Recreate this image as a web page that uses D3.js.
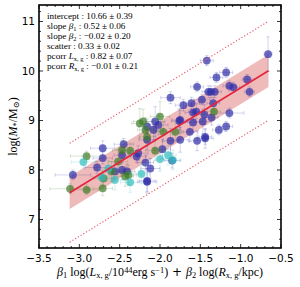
<!DOCTYPE html>
<html>
<head>
<meta charset="utf-8">
<script src="https://cdn.jsdelivr.net/npm/d3@7"></script>
<style>
  body { margin: 0; background: #fff; }
  svg { display: block; }
</style>
</head>
<body>
<div id="chart"></div>
<script>
// data points: [x, y, xerr, yerr]
const bluePoints = [
    [-3.08, 7.90, 0.22, 0.10], [-2.71, 8.44, 0.15, 0.15], [-2.71, 8.24, 0.12, 0.12],
    [-2.78, 8.05, 0.15, 0.12], [-2.56, 7.97, 0.12, 0.15], [-2.45, 8.52, 0.12, 0.12],
    [-2.47, 8.30, 0.10, 0.15], [-2.47, 8.00, 0.10, 0.20], [-2.41, 7.97, 0.10, 0.15],
    [-2.29, 8.27, 0.12, 0.12], [-2.27, 8.34, 0.12, 0.15], [-2.16, 7.78, 0.10, 0.25],
    [-2.18, 8.15, 0.10, 0.15], [-2.16, 8.88, 0.10, 0.15], [-1.42, 10.21, 0.08, 0.10],
    [-1.54, 9.68, 0.08, 0.10], [-1.87, 9.46, 0.12, 0.12], [-1.30, 9.87, 0.08, 0.10],
    [-1.18, 9.97, 0.08, 0.10], [-0.92, 9.83, 0.06, 0.10], [-1.14, 9.70, 0.08, 0.10],
    [-1.09, 9.67, 0.08, 0.10], [-0.89, 9.58, 0.06, 0.10], [-1.40, 9.58, 0.08, 0.12],
    [-1.37, 9.58, 0.08, 0.12], [-1.32, 9.58, 0.08, 0.12], [-1.61, 9.35, 0.10, 0.12],
    [-1.48, 9.42, 0.10, 0.10], [-1.71, 9.31, 0.10, 0.12], [-1.34, 9.35, 0.08, 0.12],
    [-1.76, 8.99, 0.10, 0.25], [-1.59, 9.16, 0.10, 0.15], [-1.59, 8.96, 0.10, 0.20],
    [-1.47, 8.98, 0.10, 0.25], [-1.14, 9.15, 0.18, 0.10], [-1.45, 9.12, 0.10, 0.20],
    [-1.36, 9.06, 0.08, 0.15], [-1.55, 9.18, 0.10, 0.15], [-1.75, 9.01, 0.10, 0.20],
    [-2.06, 8.98, 0.12, 0.30], [-2.02, 8.91, 0.12, 0.20], [-2.08, 8.81, 0.12, 0.20],
    [-1.75, 8.61, 0.10, 0.25], [-1.87, 8.59, 0.10, 0.25], [-1.63, 8.77, 0.10, 0.20],
    [-1.54, 8.59, 0.10, 0.20], [-1.44, 8.64, 0.10, 0.20], [-1.97, 8.42, 0.10, 0.20],
    [-2.16, 8.61, 0.10, 0.20], [-2.12, 8.03, 0.12, 0.20], [-2.16, 7.76, 0.12, 0.20],
    [-1.18, 8.88, 0.08, 0.10], [-1.27, 8.81, 0.08, 0.10], [-1.44, 8.67, 0.08, 0.15],
    [-1.85, 8.19, 0.10, 0.15], [-0.66, 10.34, 0.05, 0.35]
];
const greenPoints = [
    [-3.115, 7.62, 0.25, 0.10], [-2.91, 7.60, 0.15, 0.10], [-2.71, 7.63, 0.12, 0.15],
    [-2.91, 8.28, 0.20, 0.10], [-2.70, 7.83, 0.12, 0.15], [-2.60, 7.97, 0.12, 0.20],
    [-2.47, 8.40, 0.12, 0.20], [-2.37, 8.39, 0.12, 0.15], [-2.52, 8.17, 0.12, 0.25],
    [-2.39, 7.90, 0.10, 0.20], [-2.43, 7.87, 0.10, 0.20], [-2.25, 8.94, 0.10, 0.30],
    [-2.18, 8.81, 0.10, 0.25], [-2.16, 8.67, 0.10, 0.20], [-1.33, 9.18, 0.08, 0.15],
    [-2.00, 9.08, 0.12, 0.30], [-2.21, 8.98, 0.12, 0.25], [-1.96, 8.77, 0.12, 0.20],
    [-1.81, 8.77, 0.10, 0.20], [-2.06, 8.39, 0.12, 0.20]
];
const cyanPoints = [
    [-2.95, 8.16, 0.15, 0.12], [-2.72, 7.85, 0.12, 0.15], [-2.64, 8.03, 0.12, 0.15],
    [-2.56, 7.80, 0.12, 0.20], [-2.37, 7.75, 0.12, 0.20], [-2.23, 7.92, 0.10, 0.20],
    [-2.00, 8.22, 0.12, 0.25], [-1.90, 8.30, 0.10, 0.20], [-1.84, 8.20, 0.10, 0.20]
];

// fit results
const fitIntercept = 10.66;
const fitSlope = 1.0;
const fitRange = [-3.12, -0.655];
const bandHalf = 0.33;
const outerOffset = 1.0;

const xTicks = [-3.5, -3.0, -2.5, -2.0, -1.5, -1.0, -0.5];
const yTicks = [7, 8, 9, 10, 11];

// stats box rows: [text, style] segments
const statRows = [
    [['intercept : 10.66 ± 0.39']],
    [['slope '], ['β', 'i'], ['1', 'sub'], [' : 0.52 ± 0.06']],
    [['slope '], ['β', 'i'], ['2', 'sub'], [' : −0.02 ± 0.20']],
    [['scatter : 0.33 ± 0.02']],
    [['pcorr '], ['L', 'i'], ['x, g', 'sub'], [' : 0.82 ± 0.07']],
    [['pcorr '], ['R', 'i'], ['x, g', 'sub'], [' : −0.01 ± 0.21']]
];

const W = 300, H = 287;
const margin = { left: 39, right: 19, top: 5, bottom: 39 };

const svg = d3.select('#chart').append('svg')
    .attr('width', W)
    .attr('height', H);

const x = d3.scaleLinear().domain([-3.5, -0.5]).range([margin.left, W - margin.right]);
const y = d3.scaleLinear().domain([6.424, 11.333]).range([H - margin.bottom, margin.top]);

const serif = '"Liberation Serif", "DejaVu Serif", serif';
const sans = '"DejaVu Sans", sans-serif';

svg.append('clipPath').attr('id', 'clip')
    .append('rect')
    .attr('x', x.range()[0]).attr('y', y.range()[1])
    .attr('width', x.range()[1] - x.range()[0])
    .attr('height', y.range()[0] - y.range()[1]);

const plot = svg.append('g').attr('clip-path', 'url(#clip)');

// shaded band
const bandArea = d3.area()
    .x(d => x(d))
    .y0(d => y(fitIntercept + fitSlope * d - bandHalf))
    .y1(d => y(fitIntercept + fitSlope * d + bandHalf));
plot.append('path')
    .datum(fitRange)
    .attr('d', bandArea)
    .attr('fill', '#cd3a3a')
    .attr('opacity', 0.35);

// points with error bars
function drawGroup(data, color) {
    const g = plot.append('g');
    const cap = 1.8;
    data.forEach(d => {
        const px = x(d[0]), py = y(d[1]);
        const e = g.append('g')
            .attr('stroke', color)
            .attr('stroke-opacity', 0.2)
            .attr('stroke-width', 1);
        e.append('line').attr('x1', x(d[0] - d[2])).attr('x2', x(d[0] + d[2])).attr('y1', py).attr('y2', py);
        e.append('line').attr('x1', px).attr('x2', px).attr('y1', y(d[1] - d[3])).attr('y2', y(d[1] + d[3]));
        e.append('line').attr('x1', x(d[0] - d[2])).attr('x2', x(d[0] - d[2])).attr('y1', py - cap).attr('y2', py + cap);
        e.append('line').attr('x1', x(d[0] + d[2])).attr('x2', x(d[0] + d[2])).attr('y1', py - cap).attr('y2', py + cap);
        e.append('line').attr('x1', px - cap).attr('x2', px + cap).attr('y1', y(d[1] - d[3])).attr('y2', y(d[1] - d[3]));
        e.append('line').attr('x1', px - cap).attr('x2', px + cap).attr('y1', y(d[1] + d[3])).attr('y2', y(d[1] + d[3]));
    });
    g.selectAll('circle.pt')
        .data(data)
        .enter().append('circle')
        .attr('class', 'pt')
        .attr('cx', d => x(d[0]))
        .attr('cy', d => y(d[1]))
        .attr('r', 3.9)
        .attr('fill', color)
        .attr('fill-opacity', 0.7);
}

drawGroup(bluePoints, '#2e2ea8');
drawGroup(greenPoints, '#3f7d26');
drawGroup(cyanPoints, '#2fbdbd');

// fit line
const fitLine = d3.line()
    .x(d => x(d))
    .y(d => y(fitIntercept + fitSlope * d));
plot.append('path')
    .datum(fitRange)
    .attr('d', fitLine)
    .attr('fill', 'none')
    .attr('stroke', '#e5253f')
    .attr('stroke-width', 1.6);

// dotted outer lines
[outerOffset, -outerOffset].forEach(off => {
    plot.append('path')
        .datum(fitRange)
        .attr('d', d3.line().x(d => x(d)).y(d => y(fitIntercept + fitSlope * d + off)))
        .attr('fill', 'none')
        .attr('stroke', '#e8606e')
        .attr('stroke-width', 1.2)
        .attr('stroke-dasharray', '1.2,2');
});

// axes: ticks inward on all sides
const majorLen = 4, minorLen = 2;
const xMinor = d3.range(-3.5, -0.49, 0.1).filter(v => !xTicks.some(t => Math.abs(t - v) < 1e-6));
const yMinor = d3.range(6.6, 11.33, 0.2).filter(v => !yTicks.some(t => Math.abs(t - v) < 1e-6));

const axesG = svg.append('g').attr('stroke', '#000').attr('stroke-width', 0.8);
const [x0, x1] = x.range();
const [yb, yt] = y.range();
xTicks.forEach(t => {
    axesG.append('line').attr('x1', x(t)).attr('x2', x(t)).attr('y1', yb).attr('y2', yb - majorLen);
    axesG.append('line').attr('x1', x(t)).attr('x2', x(t)).attr('y1', yt).attr('y2', yt + majorLen);
});
xMinor.forEach(t => {
    axesG.append('line').attr('x1', x(t)).attr('x2', x(t)).attr('y1', yb).attr('y2', yb - minorLen);
    axesG.append('line').attr('x1', x(t)).attr('x2', x(t)).attr('y1', yt).attr('y2', yt + minorLen);
});
yTicks.forEach(t => {
    axesG.append('line').attr('x1', x0).attr('x2', x0 + majorLen).attr('y1', y(t)).attr('y2', y(t));
    axesG.append('line').attr('x1', x1).attr('x2', x1 - majorLen).attr('y1', y(t)).attr('y2', y(t));
});
yMinor.forEach(t => {
    axesG.append('line').attr('x1', x0).attr('x2', x0 + minorLen).attr('y1', y(t)).attr('y2', y(t));
    axesG.append('line').attr('x1', x1).attr('x2', x1 - minorLen).attr('y1', y(t)).attr('y2', y(t));
});

svg.append('rect')
    .attr('x', x0).attr('y', yt)
    .attr('width', x1 - x0).attr('height', yb - yt)
    .attr('fill', 'none')
    .attr('stroke', '#000')
    .attr('stroke-width', 1.6);

// tick labels
svg.append('g').selectAll('text')
    .data(xTicks)
    .enter().append('text')
    .attr('x', d => x(d))
    .attr('y', yb + 14)
    .attr('text-anchor', 'middle')
    .attr('font-family', sans)
    .attr('font-size', '10.5px')
    .text(d => d3.format('.1f')(d).replace('-', '−'));

svg.append('g').selectAll('text')
    .data(yTicks)
    .enter().append('text')
    .attr('x', x0 - 4)
    .attr('y', d => y(d))
    .attr('dy', '0.36em')
    .attr('text-anchor', 'end')
    .attr('font-family', sans)
    .attr('font-size', '10.5px')
    .text(d => d);

// rich text helper
function richText(sel, segs, base) {
    segs.forEach(s => {
        const ts = sel.append('tspan').text(s[0]);
        if (s[1] === 'i') ts.attr('font-style', 'italic');
        if (s[1] === 'sub') ts.attr('font-size', base * 0.7 + 'px').attr('baseline-shift', '-25%');
        if (s[1] === 'sup') ts.attr('font-size', base * 0.7 + 'px').attr('baseline-shift', '40%');
        if (s[1] === 'sans') ts.attr('font-family', sans);
    });
}

// stats box
const boxFont = 9.2;
statRows.forEach((row, i) => {
    const t = svg.append('text')
        .attr('x', 47)
        .attr('y', 19 + i * 9.9)
        .attr('font-family', serif)
        .attr('font-size', boxFont + 'px');
    richText(t, row, boxFont);
});

// axis labels
const labelFont = 12;
const xl = svg.append('text')
    .attr('x', (x0 + x1) / 2)
    .attr('y', 276)
    .attr('text-anchor', 'middle')
    .attr('font-family', serif)
    .attr('font-size', labelFont + 'px');
richText(xl, [
    ['β', 'i'], ['1', 'sub'], [' log('], ['L', 'i'], ['x, g', 'sub'], ['/10'], ['44', 'sup'],
    ['erg s'], ['−1', 'sup'], [')'], [' + ', 'sans'], ['β', 'i'], ['2', 'sub'], [' log('],
    ['R', 'i'], ['x, g', 'sub'], ['/kpc)']
], labelFont);

const yl = svg.append('text')
    .attr('transform', `translate(17, ${(yb + yt) / 2}) rotate(-90)`)
    .attr('text-anchor', 'middle')
    .attr('font-family', serif)
    .attr('font-size', labelFont + 'px');
richText(yl, [['log('], ['M', 'i'], ['*', 'sub'], ['/M'], ['⊙', 'sub'], [')']], labelFont);
</script>
</body>
</html>
